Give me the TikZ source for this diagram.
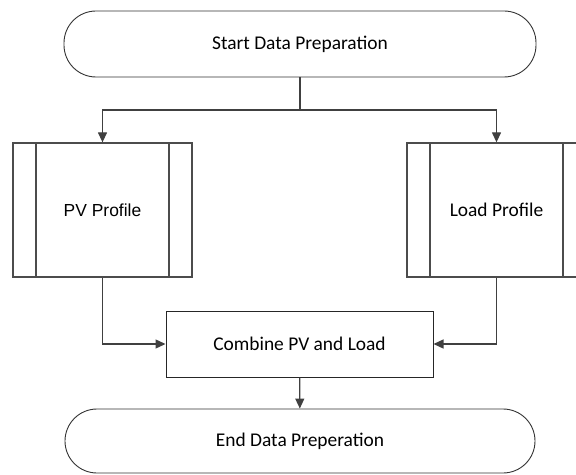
\documentclass[tikz,border=0pt]{standalone}
\usepackage{fontspec}
\setmainfont{Carlito}
\newfontfamily\arialfont{Liberation Sans}
\usetikzlibrary{arrows.meta, positioning}

\begin{document}
\begin{tikzpicture}[
    x=1bp, y=-1bp,
    every node/.style={font=\fontsize{19.5}{23}\selectfont},
    terminal/.style={rectangle, draw=black!80, line width=0.9bp, rounded corners=32bp, minimum width=472bp, minimum height=66bp},
    process/.style={rectangle, draw=black!85, line width=1bp, minimum width=267bp, minimum height=66bp},
    subproc/.style={rectangle, draw=black!70, line width=1.3bp, minimum width=179bp, minimum height=134bp,
        path picture={
            \draw[black!70, line width=1.3bp] ([xshift=23bp]path picture bounding box.north west) -- ([xshift=23bp]path picture bounding box.south west);
            \draw[black!70, line width=1.3bp] ([xshift=-23bp]path picture bounding box.north east) -- ([xshift=-23bp]path picture bounding box.south east);
        }},
    arrow/.style={-{Triangle[length=10bp, width=9bp]}, line width=1.3bp, draw=black!75}
]
    \clip (0,0) rectangle (576,475);

    % Start and the two profiles
    \node[terminal] (start) at (300, 44) {Start Data Preparation};
    \coordinate (split) at (300, 110);
    \node[subproc, font=\arialfont\fontsize{17.5}{21}\selectfont] (pv) at (102.5, 210) {PV Profile};
    \node[subproc] (load) at (496.5, 210) {Load Profile};

    \draw[line width=1.3bp, black!75] (start) -- (split);
    \draw[arrow] (split) -| (pv);
    \draw[arrow] (split) -| (load);

    % Combine and end
    \node[process] (combine) at (299.5, 344) {Combine PV and Load};
    \node[terminal, minimum width=470bp, minimum height=64bp] (end) at (300, 441) {End Data Preperation};

    \draw[arrow] (pv) |- (combine);
    \draw[arrow] (load) |- (combine);
    \draw[arrow] (combine) -- (end);

\end{tikzpicture}
\end{document}
